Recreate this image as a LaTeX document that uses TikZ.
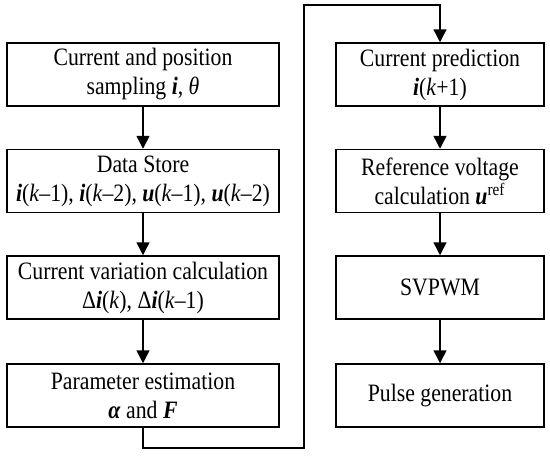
\documentclass[tikz,border=0pt]{standalone}
\usepackage{fontspec}
\setmainfont{Liberation Serif}[FakeStretch=0.87]
\usetikzlibrary{arrows.meta}
\newcommand{\bi}[1]{\textbf{\textit{#1}}}
\begin{document}
\begin{tikzpicture}[x=0.5pt,y=-0.5pt,
  every node/.style={font=\fontsize{12.5pt}{14.5pt}\selectfont},
  lbox/.style={draw,line width=0.75pt,minimum width=136pt,minimum height=31.5pt,align=center,inner sep=0pt},
  rbox/.style={draw,line width=0.75pt,minimum width=104pt,minimum height=31.5pt,align=center,inner sep=0pt},
  flow/.style={line width=0.75pt,-{Triangle[length=6.5pt,width=6.5pt]}}]
\useasboundingbox (0,0) rectangle (550,456);
\node[lbox] (l1) at (143,74.5) {Current and position\\sampling \bi{i}, \textit{θ}};
\node[lbox] (l2) at (143,181) {Data Store\\\bi{i}(\textit{k}–1), \bi{i}(\textit{k}–2), \bi{u}(\textit{k}–1), \bi{u}(\textit{k}–2)};
\node[lbox] (l3) at (143,287.5) {Current variation calculation\\Δ\bi{i}(\textit{k}), Δ\bi{i}(\textit{k}–1)};
\node[lbox] (l4) at (143,395.5) {Parameter estimation\\\bi{α} and \bi{F}};
\node[rbox] (r1) at (440,74.5) {Current prediction\\\bi{i}(\textit{k}+1)};
\node[rbox] (r2) at (440,181) {Reference voltage\\calculation \bi{u}\textsuperscript{ref}};
\node[rbox] (r3) at (440,287.5) {SVPWM};
\node[rbox] (r4) at (440,395.5) {Pulse generation};
\coordinate (p1) at (143,448);
\coordinate (p2) at (304,448);
\coordinate (p3) at (304,5);
\coordinate (p4) at (440,5);
\draw[flow] (l1) -- (l2);
\draw[flow] (l2) -- (l3);
\draw[flow] (l3) -- (l4);
\draw[flow] (r1) -- (r2);
\draw[flow] (r2) -- (r3);
\draw[flow] (r3) -- (r4);
\draw[flow] (l4.south) -- (p1) -- (p2) -- (p3) -- (p4) -- (r1.north);
\end{tikzpicture}
\end{document}
